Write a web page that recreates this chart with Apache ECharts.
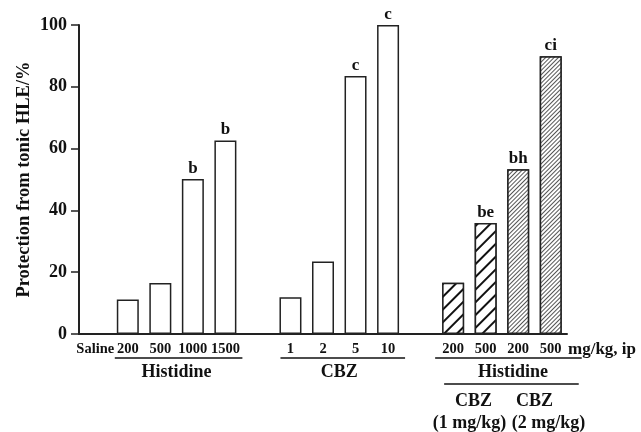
<!DOCTYPE html>
<html>
<head>
<meta charset="utf-8">
<script src="https://cdn.jsdelivr.net/npm/echarts@6/dist/echarts.min.js"></script>
<style>html,body{margin:0;padding:0;background:#fff;}#c{width:641px;height:432px;}</style>
</head>
<body>
<div id="c"></div>
<script>
// ---- data ----
const categories = ['Saline','200','500','1000','1500','','1','2','5','10','','200','500','200','500'];
const salineValue = null;
const histidineValues = [11.2, 16.5, 50.2, 62.6];
const histidineLetters = ['', '', 'b', 'b'];
const cbzValues = [11.9, 23.5, 83.5, 100];
const cbzLetters = ['', '', 'c', 'c'];
const comboCbz1Values = [16.6, 35.9];
const comboCbz1Letters = ['', 'be'];
const comboCbz2Values = [53.3, 89.9];
const comboCbz2Letters = ['bh', 'ci'];
const yTicks = [0, 20, 40, 60, 80, 100];

// ---- build series data ----
const N = categories.length;
function blank(){ return new Array(N).fill(null); }
const openData = blank(), coarseData = blank(), fineData = blank();
const openLab = blank(), coarseLab = blank(), fineLab = blank();
openData[0] = salineValue;
histidineValues.forEach((v,i)=>{ openData[1+i]=v; openLab[1+i]=histidineLetters[i]; });
cbzValues.forEach((v,i)=>{ openData[6+i]=v; openLab[6+i]=cbzLetters[i]; });
comboCbz1Values.forEach((v,i)=>{ coarseData[11+i]=v; coarseLab[11+i]=comboCbz1Letters[i]; });
comboCbz2Values.forEach((v,i)=>{ fineData[13+i]=v; fineLab[13+i]=comboCbz2Letters[i]; });

const FONT = '"Liberation Serif", "Times New Roman", serif';
const labelCfg = (labs) => ({
  show: true, position: 'top', distance: 2,
  fontFamily: FONT, fontWeight: 'bold', fontSize: 17, color: '#111',
  formatter: p => labs[p.dataIndex] || ''
});
const barBase = {
  type: 'bar', barWidth: 22, barGap: '-100%',
  itemStyle: { color: '#fff', borderColor: '#222', borderWidth: 1.5 }
};

const chart = echarts.init(document.getElementById('c'), null, {renderer: 'canvas'});
chart.setOption({
  animation: false,
  backgroundColor: '#fff',
  grid: { left: 79, top: 25, width: 488, height: 309, containLabel: false },
  xAxis: {
    type: 'category', data: categories, boundaryGap: true,
    axisLine: { lineStyle: { color: '#222', width: 2 } },
    axisTick: { show: false },
    axisLabel: { interval: 0, margin: 8, fontFamily: FONT, fontWeight: 'bold', fontSize: 14.5, color: '#111' },
    name: 'mg/kg, ip', nameLocation: 'end', nameGap: 1, nameMoveOverlap: false,
    nameTextStyle: { fontFamily: FONT, fontWeight: 'bold', fontSize: 17, color: '#111', align: 'left', verticalAlign: 'top', padding: [7,0,0,0] }
  },
  yAxis: {
    type: 'value', min: 0, max: 100, interval: 20,
    splitLine: { show: false },
    axisLine: { show: true, lineStyle: { color: '#222', width: 2 } },
    axisTick: { show: true, length: 8, lineStyle: { color: '#222', width: 1.5 } },
    axisLabel: { margin: 12, fontFamily: FONT, fontWeight: 'bold', fontSize: 18, color: '#111',
      formatter: v => yTicks.includes(v) ? String(v) : '' },
    name: 'Protection from tonic HLE/%', nameLocation: 'middle', nameGap: 45, nameRotate: 90, nameMoveOverlap: false,
    nameTextStyle: { fontFamily: FONT, fontWeight: 'bold', fontSize: 18.5, color: '#111' }
  },
  series: [
    Object.assign({}, barBase, { name: 'open', data: openData, label: labelCfg(openLab) }),
    Object.assign({}, barBase, { name: 'coarse', data: coarseData, label: labelCfg(coarseLab),
      itemStyle: { color: '#fff', borderColor: '#222', borderWidth: 1.5,
        decal: { symbol: 'rect', symbolSize: 1, dashArrayX: [1, 0], dashArrayY: [1.6, 6.5], rotation: -Math.PI/4, color: '#111', backgroundColor: '#fff' } } }),
    Object.assign({}, barBase, { name: 'fine', data: fineData, label: labelCfg(fineLab),
      itemStyle: { color: '#fff', borderColor: '#222', borderWidth: 1.5,
        decal: { symbol: 'rect', symbolSize: 1, dashArrayX: [1, 0], dashArrayY: [1, 2], rotation: -Math.PI/4, color: '#555', backgroundColor: '#fff' } } })
  ]
});

// group annotations positioned from the category scale
function px(i){ return chart.convertToPixel({xAxisIndex: 0}, i); }
const yLine1 = 358, yLine2 = 384;
const tStyle = (s, size) => ({ text: s, fontFamily: FONT, fontWeight: 'bold', fontSize: size, fill: '#111', textAlign: 'center', textVerticalAlign: 'middle' });
const g = [];
function hline(x1, x2, y){ g.push({ type: 'line', shape: { x1, y1: y, x2, y2: y }, style: { stroke: '#111', lineWidth: 1.5 } }); }
function txt(x, y, s, size){ g.push({ type: 'text', x, y, style: tStyle(s, size) }); }
// Histidine
hline(px(1)-13, px(4)+17, yLine1); txt((px(1)+px(4))/2, 372, 'Histidine', 18);
// CBZ
hline(px(6)-10, px(9)+17, yLine1); txt((px(6)+px(9))/2, 372, 'CBZ', 18);
// Combination
hline(px(11)-18, px(14)+31, yLine1); txt((px(11)+px(14))/2 + 11, 372, 'Histidine', 18);
hline(px(11)-9, px(14)+28, yLine2);
txt((px(11)+px(12))/2 + 4, 401, 'CBZ', 18); txt((px(13)+px(14))/2, 401, 'CBZ', 18);
txt((px(11)+px(12))/2, 423, '(1 mg/kg)', 18); txt((px(13)+px(14))/2 + 14, 423, '(2 mg/kg)', 18);
chart.setOption({ graphic: g });
</script>
</body>
</html>
